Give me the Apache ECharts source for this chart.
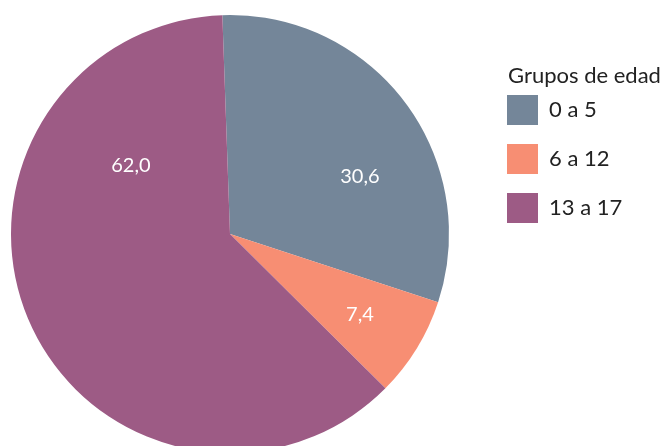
<!DOCTYPE html>
<html>
<head>
<meta charset="utf-8">
<script src="https://cdn.jsdelivr.net/npm/echarts@6/dist/echarts.min.js"></script>
<style>
  html, body { margin: 0; padding: 0; background: #fff; }
  #main { width: 662px; height: 446px; }
</style>
</head>
<body>
<div id="main"></div>
<script>
// datos: porcentaje por grupo de edad
var grupos = ['0 a 5', '6 a 12', '13 a 17'];
var valores = [30.6, 7.4, 62.0];
var colores = ['#748699', '#F78E73', '#9D5B85'];
// desplazamiento de cada etiqueta respecto a su posicion por defecto
var desplaz = [[40, 10], [34, 22], [4, -113]];

var fuente = 'Lato, "Open Sans", sans-serif';

var myChart = echarts.init(document.getElementById('main'));
myChart.setOption({
    animation: false,
    color: colores,
    title: {
        text: 'Grupos de edad',
        left: 508,
        top: 65,
        padding: 0,
        textStyle: { fontFamily: fuente, fontSize: 22, fontWeight: 'normal', color: '#222' }
    },
    legend: {
        orient: 'vertical',
        left: 507,
        top: 95,
        padding: 0,
        itemWidth: 31,
        itemHeight: 30,
        itemGap: 19,
        icon: 'rect',
        data: grupos,
        textStyle: { fontFamily: fuente, fontSize: 22, color: '#222', padding: [0, 0, 0, 6] }
    },
    series: [{
        type: 'pie',
        center: [230, 234],
        radius: 219,
        startAngle: 92,
        clockwise: true,
        avoidLabelOverlap: false,
        label: {
            position: 'inside',
            color: '#fff',
            fontFamily: fuente,
            fontSize: 20,
            formatter: function (p) { return p.value.toFixed(1).replace('.', ','); }
        },
        labelLayout: function (p) {
            return { dx: desplaz[p.dataIndex][0], dy: desplaz[p.dataIndex][1] };
        },
        emphasis: { disabled: true },
        data: grupos.map(function (g, i) { return { name: g, value: valores[i] }; })
    }]
});
</script>
</body>
</html>
